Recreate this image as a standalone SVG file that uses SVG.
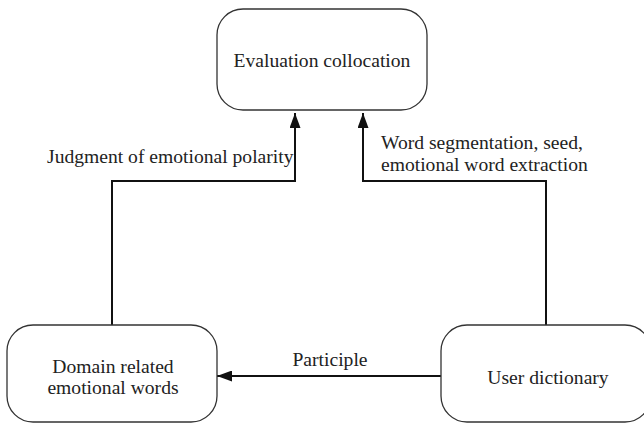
<svg xmlns="http://www.w3.org/2000/svg" width="644" height="426" viewBox="0 0 644 426">
<defs>
<marker id="ah" markerWidth="15" markerHeight="11" refX="15" refY="5.5" orient="auto" markerUnits="userSpaceOnUse" viewBox="0 0 15 11">
<path d="M0,0 L15,5.5 L0,11 Z" fill="#111"/>
</marker>
<style>
.box{fill:#fff;stroke:#333;stroke-width:1.3}
text{font-family:'Liberation Serif','Times New Roman','DejaVu Serif',serif;font-size:19.6px;fill:#222}
.c{text-anchor:middle}
.ln{fill:none;stroke:#111;stroke-width:2}
</style>
</defs>
<rect width="644" height="426" fill="#fff"/>
<g id="connectors">
<polyline class="ln" points="112,325 112,181 295,181 295,113" marker-end="url(#ah)"/>
<polyline class="ln" points="546,325 546,181 363,181 363,113" marker-end="url(#ah)"/>
<line class="ln" x1="441" y1="376" x2="217" y2="376" marker-end="url(#ah)"/>
<text x="47" y="163">Judgment of emotional polarity</text>
<text x="381" y="149">Word segmentation, seed,</text>
<text x="381" y="171">emotional word extraction</text>
<text class="c" x="330" y="366">Participle</text>
</g>
<g id="evaluation">
<rect class="box" x="217" y="9" width="210" height="101" rx="26"/>
<text class="c" x="322" y="67">Evaluation collocation</text>
</g>
<g id="domain">
<rect class="box" x="7" y="325" width="210" height="97" rx="26"/>
<text class="c" x="113" y="373">Domain related</text>
<text class="c" x="113" y="394">emotional words</text>
</g>
<g id="user">
<rect class="box" x="441" y="325" width="210" height="97" rx="26"/>
<text class="c" x="548" y="384">User dictionary</text>
</g>
</svg>
